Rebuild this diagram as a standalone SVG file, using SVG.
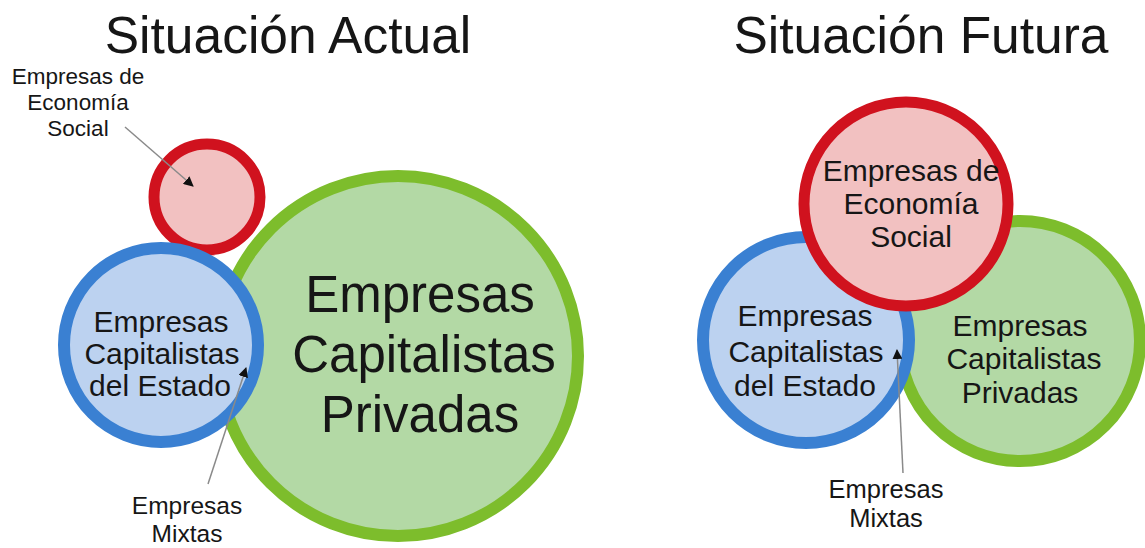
<svg xmlns="http://www.w3.org/2000/svg" width="1145" height="548" viewBox="0 0 1145 548">
<defs>
<style>
text{font-family:"Liberation Sans",Arial,sans-serif;fill:#161616;text-anchor:middle}
.red{fill:#f2c1c1;stroke:#d0121e;stroke-width:11}
.blue{fill:#bcd2f0;stroke:#3a80d2;stroke-width:12}
.green{fill:#b3d9a5;stroke:#7dbd2c;stroke-width:12}
.lead{stroke:#8a8a8a;stroke-width:1.5;fill:none}
</style>
<marker id="ah" viewBox="0 0 10 10" refX="9" refY="5" markerWidth="10" markerHeight="10" markerUnits="userSpaceOnUse" orient="auto">
<path d="M0,0 L10,5 L0,10 z" fill="#111"/>
</marker>
</defs>
<rect width="1145" height="548" fill="#fff"/>
<text x="288" y="53" font-size="51.5">Situación Actual</text>
<text x="921" y="53" font-size="51.5">Situación Futura</text>

<g id="left-privadas">
<circle class="green" cx="398" cy="356" r="180"/>
<text x="420" y="312" font-size="51">Empresas</text>
<text x="424" y="372" font-size="51">Capitalistas</text>
<text x="420" y="432" font-size="51">Privadas</text>
</g>
<g id="left-social">
<circle class="red" cx="207" cy="197" r="53"/>
</g>
<g id="left-estado">
<circle class="blue" cx="161" cy="345" r="97"/>
<text x="161" y="332" font-size="30">Empresas</text>
<text x="162" y="364" font-size="30">Capitalistas</text>
<text x="160" y="396" font-size="30">del Estado</text>
</g>
<g id="left-label-social">
<text x="78" y="84" font-size="22.5">Empresas de</text>
<text x="78" y="110" font-size="22.5">Economía</text>
<text x="78" y="136" font-size="22.5">Social</text>
</g>
<g id="left-label-mixtas">
<text x="187" y="514" font-size="24.5">Empresas</text>
<text x="187" y="542" font-size="24.5">Mixtas</text>
</g>

<g id="right-privadas">
<circle class="green" cx="1020" cy="341" r="120"/>
<text x="1020" y="336" font-size="30">Empresas</text>
<text x="1024" y="369" font-size="30">Capitalistas</text>
<text x="1020" y="403" font-size="30">Privadas</text>
</g>
<g id="right-estado">
<circle class="blue" cx="806" cy="340" r="103"/>
<text x="805" y="326" font-size="30">Empresas</text>
<text x="806" y="362" font-size="30">Capitalistas</text>
<text x="805" y="396" font-size="30">del Estado</text>
</g>
<g id="right-social">
<circle class="red" cx="906" cy="204" r="102"/>
<text x="911" y="181" font-size="30">Empresas de</text>
<text x="911" y="214" font-size="30">Economía</text>
<text x="911" y="247" font-size="30">Social</text>
</g>
<g id="right-label-mixtas">
<text x="886" y="498" font-size="25.5">Empresas</text>
<text x="886" y="527" font-size="25.5">Mixtas</text>
</g>

<g id="connectors">
<line class="lead" x1="125" y1="127" x2="193" y2="186" marker-end="url(#ah)"/>
<line class="lead" x1="208" y1="484" x2="246" y2="368" marker-end="url(#ah)"/>
<line class="lead" x1="903" y1="473" x2="897" y2="350" marker-end="url(#ah)"/>
</g>
</svg>
